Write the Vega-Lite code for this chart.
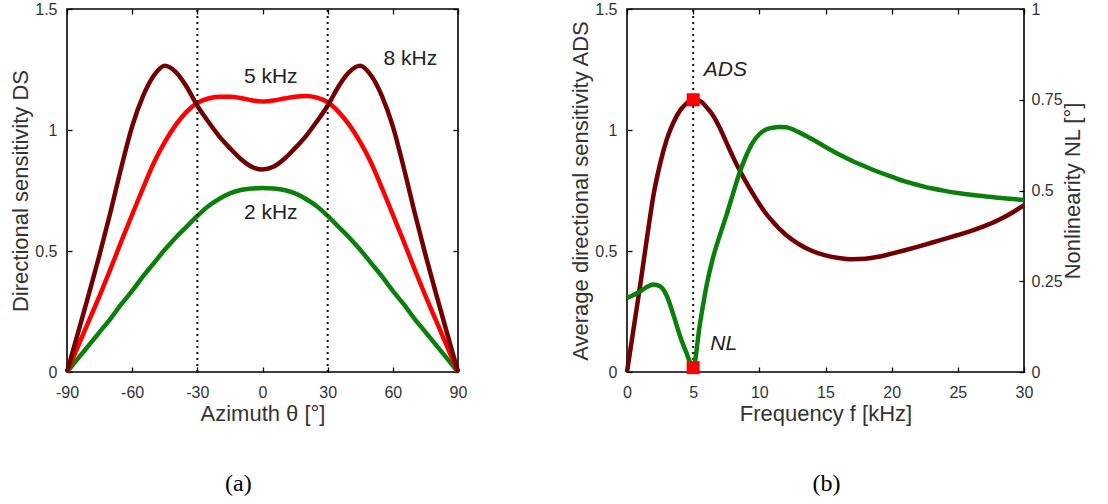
{
  "$schema": "https://vega.github.io/schema/vega-lite/v6.json",
  "background": "white",
  "padding": {"left": 8, "top": 0, "right": 5, "bottom": 5},
  "config": {
    "font": "Liberation Sans",
    "view": {"stroke": "#000", "strokeWidth": 1.6},
    "axis": {"grid": false, "domain": false, "tickColor": "#000", "tickWidth": 1.3, "tickSize": -5, "labelFont": "Liberation Sans", "labelFontSize": 16, "labelColor": "#333", "labelFlush": false, "labelOverlap": false, "labelExpr": "replace(datum.label, '−', '-')", "titleFont": "Liberation Sans", "titleFontSize": 22, "titleFontWeight": "normal", "titleColor": "#333", "labelPadding": 15, "titlePadding": 2},
    "axisX": {"labelPadding": 17, "titlePadding": 3},
    "title": {"font": "Liberation Serif", "fontSize": 24, "fontWeight": "normal", "color": "#000", "frame": "bounds"}
  },
  "datasets": {
    "ds": [
      {"theta": -90, "DS": 0, "freq": "2 kHz"}, {"theta": -85, "DS": 0.055, "freq": "2 kHz"}, {"theta": -80, "DS": 0.11, "freq": "2 kHz"}, {"theta": -75, "DS": 0.165, "freq": "2 kHz"}, {"theta": -70, "DS": 0.22, "freq": "2 kHz"}, {"theta": -65, "DS": 0.28, "freq": "2 kHz"}, {"theta": -60, "DS": 0.335, "freq": "2 kHz"}, {"theta": -55, "DS": 0.395, "freq": "2 kHz"}, {"theta": -50, "DS": 0.45, "freq": "2 kHz"}, {"theta": -45, "DS": 0.505, "freq": "2 kHz"}, {"theta": -40, "DS": 0.555, "freq": "2 kHz"}, {"theta": -35, "DS": 0.6, "freq": "2 kHz"}, {"theta": -30, "DS": 0.645, "freq": "2 kHz"}, {"theta": -25, "DS": 0.685, "freq": "2 kHz"}, {"theta": -20, "DS": 0.715, "freq": "2 kHz"}, {"theta": -15, "DS": 0.738, "freq": "2 kHz"}, {"theta": -10, "DS": 0.752, "freq": "2 kHz"}, {"theta": -5, "DS": 0.758, "freq": "2 kHz"}, {"theta": 0, "DS": 0.76, "freq": "2 kHz"}, {"theta": 5, "DS": 0.758, "freq": "2 kHz"}, {"theta": 10, "DS": 0.752, "freq": "2 kHz"}, {"theta": 15, "DS": 0.738, "freq": "2 kHz"}, {"theta": 20, "DS": 0.715, "freq": "2 kHz"}, {"theta": 25, "DS": 0.685, "freq": "2 kHz"}, {"theta": 30, "DS": 0.645, "freq": "2 kHz"}, {"theta": 35, "DS": 0.6, "freq": "2 kHz"}, {"theta": 40, "DS": 0.555, "freq": "2 kHz"}, {"theta": 45, "DS": 0.505, "freq": "2 kHz"}, {"theta": 50, "DS": 0.45, "freq": "2 kHz"}, {"theta": 55, "DS": 0.395, "freq": "2 kHz"}, {"theta": 60, "DS": 0.335, "freq": "2 kHz"}, {"theta": 65, "DS": 0.28, "freq": "2 kHz"}, {"theta": 70, "DS": 0.22, "freq": "2 kHz"}, {"theta": 75, "DS": 0.165, "freq": "2 kHz"}, {"theta": 80, "DS": 0.11, "freq": "2 kHz"}, {"theta": 85, "DS": 0.055, "freq": "2 kHz"}, {"theta": 90, "DS": 0, "freq": "2 kHz"},
      {"theta": -90, "DS": 0, "freq": "5 kHz"}, {"theta": -85, "DS": 0.105, "freq": "5 kHz"}, {"theta": -80, "DS": 0.21, "freq": "5 kHz"}, {"theta": -75, "DS": 0.315, "freq": "5 kHz"}, {"theta": -70, "DS": 0.425, "freq": "5 kHz"}, {"theta": -65, "DS": 0.54, "freq": "5 kHz"}, {"theta": -60, "DS": 0.65, "freq": "5 kHz"}, {"theta": -55, "DS": 0.76, "freq": "5 kHz"}, {"theta": -50, "DS": 0.865, "freq": "5 kHz"}, {"theta": -45, "DS": 0.95, "freq": "5 kHz"}, {"theta": -40, "DS": 1.02, "freq": "5 kHz"}, {"theta": -35, "DS": 1.075, "freq": "5 kHz"}, {"theta": -30, "DS": 1.112, "freq": "5 kHz"}, {"theta": -25, "DS": 1.13, "freq": "5 kHz"}, {"theta": -20, "DS": 1.137, "freq": "5 kHz"}, {"theta": -15, "DS": 1.137, "freq": "5 kHz"}, {"theta": -10, "DS": 1.132, "freq": "5 kHz"}, {"theta": -5, "DS": 1.123, "freq": "5 kHz"}, {"theta": 0, "DS": 1.118, "freq": "5 kHz"}, {"theta": 5, "DS": 1.122, "freq": "5 kHz"}, {"theta": 10, "DS": 1.13, "freq": "5 kHz"}, {"theta": 15, "DS": 1.137, "freq": "5 kHz"}, {"theta": 20, "DS": 1.14, "freq": "5 kHz"}, {"theta": 25, "DS": 1.134, "freq": "5 kHz"}, {"theta": 30, "DS": 1.115, "freq": "5 kHz"}, {"theta": 35, "DS": 1.075, "freq": "5 kHz"}, {"theta": 40, "DS": 1.02, "freq": "5 kHz"}, {"theta": 45, "DS": 0.95, "freq": "5 kHz"}, {"theta": 50, "DS": 0.865, "freq": "5 kHz"}, {"theta": 55, "DS": 0.76, "freq": "5 kHz"}, {"theta": 60, "DS": 0.65, "freq": "5 kHz"}, {"theta": 65, "DS": 0.54, "freq": "5 kHz"}, {"theta": 70, "DS": 0.425, "freq": "5 kHz"}, {"theta": 75, "DS": 0.315, "freq": "5 kHz"}, {"theta": 80, "DS": 0.21, "freq": "5 kHz"}, {"theta": 85, "DS": 0.105, "freq": "5 kHz"}, {"theta": 90, "DS": 0, "freq": "5 kHz"},
      {"theta": -90, "DS": 0, "freq": "8 kHz"}, {"theta": -85, "DS": 0.16, "freq": "8 kHz"}, {"theta": -80, "DS": 0.32, "freq": "8 kHz"}, {"theta": -75, "DS": 0.485, "freq": "8 kHz"}, {"theta": -70, "DS": 0.66, "freq": "8 kHz"}, {"theta": -65, "DS": 0.845, "freq": "8 kHz"}, {"theta": -60, "DS": 1.015, "freq": "8 kHz"}, {"theta": -55, "DS": 1.14, "freq": "8 kHz"}, {"theta": -50, "DS": 1.225, "freq": "8 kHz"}, {"theta": -45, "DS": 1.265, "freq": "8 kHz"}, {"theta": -40, "DS": 1.24, "freq": "8 kHz"}, {"theta": -35, "DS": 1.18, "freq": "8 kHz"}, {"theta": -30, "DS": 1.1, "freq": "8 kHz"}, {"theta": -25, "DS": 1.035, "freq": "8 kHz"}, {"theta": -20, "DS": 0.975, "freq": "8 kHz"}, {"theta": -15, "DS": 0.925, "freq": "8 kHz"}, {"theta": -10, "DS": 0.88, "freq": "8 kHz"}, {"theta": -5, "DS": 0.848, "freq": "8 kHz"}, {"theta": 0, "DS": 0.837, "freq": "8 kHz"}, {"theta": 5, "DS": 0.848, "freq": "8 kHz"}, {"theta": 10, "DS": 0.88, "freq": "8 kHz"}, {"theta": 15, "DS": 0.925, "freq": "8 kHz"}, {"theta": 20, "DS": 0.975, "freq": "8 kHz"}, {"theta": 25, "DS": 1.035, "freq": "8 kHz"}, {"theta": 30, "DS": 1.1, "freq": "8 kHz"}, {"theta": 35, "DS": 1.18, "freq": "8 kHz"}, {"theta": 40, "DS": 1.24, "freq": "8 kHz"}, {"theta": 45, "DS": 1.265, "freq": "8 kHz"}, {"theta": 50, "DS": 1.225, "freq": "8 kHz"}, {"theta": 55, "DS": 1.14, "freq": "8 kHz"}, {"theta": 60, "DS": 1.015, "freq": "8 kHz"}, {"theta": 65, "DS": 0.845, "freq": "8 kHz"}, {"theta": 70, "DS": 0.66, "freq": "8 kHz"}, {"theta": 75, "DS": 0.485, "freq": "8 kHz"}, {"theta": 80, "DS": 0.32, "freq": "8 kHz"}, {"theta": 85, "DS": 0.16, "freq": "8 kHz"}, {"theta": 90, "DS": 0, "freq": "8 kHz"}
    ],
    "ads": [
      {"f": 0, "ADS": 0}, {"f": 0.5, "ADS": 0.18}, {"f": 1, "ADS": 0.36}, {"f": 1.5, "ADS": 0.55}, {"f": 2, "ADS": 0.73}, {"f": 2.5, "ADS": 0.86}, {"f": 3, "ADS": 0.96}, {"f": 3.5, "ADS": 1.03}, {"f": 4, "ADS": 1.08}, {"f": 4.5, "ADS": 1.11}, {"f": 5, "ADS": 1.125}, {"f": 5.5, "ADS": 1.12}, {"f": 6, "ADS": 1.095}, {"f": 6.5, "ADS": 1.06}, {"f": 7, "ADS": 1.01}, {"f": 7.5, "ADS": 0.95}, {"f": 8, "ADS": 0.89}, {"f": 8.5, "ADS": 0.835}, {"f": 9, "ADS": 0.785}, {"f": 9.5, "ADS": 0.738}, {"f": 10, "ADS": 0.694}, {"f": 10.5, "ADS": 0.655}, {"f": 11, "ADS": 0.622}, {"f": 12, "ADS": 0.567}, {"f": 13, "ADS": 0.528}, {"f": 14, "ADS": 0.5}, {"f": 15, "ADS": 0.482}, {"f": 16, "ADS": 0.471}, {"f": 17, "ADS": 0.466}, {"f": 18, "ADS": 0.468}, {"f": 19, "ADS": 0.476}, {"f": 20, "ADS": 0.489}, {"f": 21, "ADS": 0.503}, {"f": 22, "ADS": 0.518}, {"f": 23, "ADS": 0.534}, {"f": 24, "ADS": 0.55}, {"f": 25, "ADS": 0.566}, {"f": 26, "ADS": 0.583}, {"f": 27, "ADS": 0.603}, {"f": 28, "ADS": 0.626}, {"f": 29, "ADS": 0.655}, {"f": 30, "ADS": 0.69}
    ],
    "nl": [
      {"f": 0, "NL": 0.204}, {"f": 0.5, "NL": 0.212}, {"f": 1, "NL": 0.222}, {"f": 1.5, "NL": 0.234}, {"f": 2, "NL": 0.241}, {"f": 2.5, "NL": 0.236}, {"f": 3, "NL": 0.21}, {"f": 3.5, "NL": 0.158}, {"f": 4, "NL": 0.1}, {"f": 4.5, "NL": 0.052}, {"f": 5, "NL": 0.012}, {"f": 5.5, "NL": 0.13}, {"f": 6, "NL": 0.236}, {"f": 6.5, "NL": 0.315}, {"f": 7, "NL": 0.375}, {"f": 7.5, "NL": 0.43}, {"f": 8, "NL": 0.49}, {"f": 8.5, "NL": 0.548}, {"f": 9, "NL": 0.595}, {"f": 9.5, "NL": 0.632}, {"f": 10, "NL": 0.655}, {"f": 10.5, "NL": 0.668}, {"f": 11, "NL": 0.673}, {"f": 11.5, "NL": 0.675}, {"f": 12, "NL": 0.674}, {"f": 13, "NL": 0.66}, {"f": 14, "NL": 0.641}, {"f": 15, "NL": 0.62}, {"f": 16, "NL": 0.6}, {"f": 17, "NL": 0.582}, {"f": 18, "NL": 0.566}, {"f": 19, "NL": 0.551}, {"f": 20, "NL": 0.538}, {"f": 21, "NL": 0.525}, {"f": 22, "NL": 0.515}, {"f": 23, "NL": 0.506}, {"f": 24, "NL": 0.499}, {"f": 25, "NL": 0.493}, {"f": 26, "NL": 0.488}, {"f": 27, "NL": 0.484}, {"f": 28, "NL": 0.48}, {"f": 29, "NL": 0.477}, {"f": 30, "NL": 0.474}
    ]
  },
  "spacing": 100,
  "hconcat": [
    {
      "width": 391,
      "height": 363,
      "title": {"text": "(a)", "orient": "bottom", "offset": 48},
      "layer": [
        {
          "layer": [
            {
              "data": {"name": "ds"},
              "mark": {"type": "line", "strokeWidth": 4.5, "interpolate": "monotone"},
              "encoding": {
                "x": {"field": "theta", "type": "quantitative", "scale": {"domain": [-90, 90], "nice": false}, "axis": {"values": [-90, -60, -30, 0, 30, 60, 90], "title": "Azimuth θ  [°]"}},
                "y": {"field": "DS", "type": "quantitative", "scale": {"domain": [0, 1.5], "nice": false}, "axis": {"values": [0, 0.5, 1, 1.5], "format": ".3~g", "title": "Directional sensitivity DS"}},
                "color": {"field": "freq", "type": "nominal", "scale": {"domain": ["2 kHz", "5 kHz", "8 kHz"], "range": ["#0a800a", "#ff0000", "#730000"]}, "legend": null}
              }
            },
            {
              "data": {"values": [{"theta": 3.8, "DS": 1.219, "label": "5 kHz"}, {"theta": 68.1, "DS": 1.292, "label": "8 kHz"}, {"theta": 3.8, "DS": 0.656, "label": "2 kHz"}]},
              "mark": {"type": "text", "fontSize": 21, "color": "#222", "align": "center", "baseline": "middle"},
              "encoding": {
                "x": {"field": "theta", "type": "quantitative"},
                "y": {"field": "DS", "type": "quantitative"},
                "text": {"field": "label"}
              }
            }
          ]
        },
        {
          "data": {"values": [{"theta": -30}, {"theta": 30}]},
          "mark": {"type": "rule", "strokeDash": [2, 4], "strokeWidth": 2, "color": "#111"},
          "encoding": {
            "x": {"field": "theta", "type": "quantitative", "axis": {"orient": "top", "labels": false, "title": null, "values": [-90, -60, -30, 0, 30, 60, 90]}},
            "y": {"datum": 0, "type": "quantitative", "axis": {"orient": "right", "labels": false, "title": null, "values": [0, 0.5, 1, 1.5]}},
            "y2": {"datum": 1.5}
          }
        }
      ],
      "resolve": {"axis": {"x": "independent", "y": "independent"}}
    },
    {
      "width": 397,
      "height": 363,
      "title": {"text": "(b)", "orient": "bottom", "offset": 48},
      "layer": [
        {
          "layer": [
            {
              "data": {"name": "ads"},
              "mark": {"type": "line", "strokeWidth": 4.5, "interpolate": "monotone", "color": "#730000"},
              "encoding": {
                "x": {"field": "f", "type": "quantitative", "scale": {"domain": [0, 30], "nice": false}, "axis": {"values": [0, 5, 10, 15, 20, 25, 30], "title": "Frequency f [kHz]"}},
                "y": {"field": "ADS", "type": "quantitative", "scale": {"domain": [0, 1.5], "nice": false}, "axis": {"values": [0, 0.5, 1, 1.5], "format": ".3~g", "title": "Average directional sensitivity ADS"}}
              }
            },
            {
              "data": {"values": [{"f": 5}]},
              "mark": {"type": "rule", "strokeDash": [2, 4], "strokeWidth": 2, "color": "#111"},
              "encoding": {
                "x": {"field": "f", "type": "quantitative"},
                "y": {"datum": 0, "type": "quantitative"},
                "y2": {"datum": 1.5}
              }
            },
            {
              "data": {"values": [{"f": 5, "ADS": 1.125}]},
              "mark": {"type": "point", "shape": "square", "filled": true, "size": 170, "color": "#ff0000", "opacity": 1},
              "encoding": {
                "x": {"field": "f", "type": "quantitative"},
                "y": {"field": "ADS", "type": "quantitative"}
              }
            },
            {
              "data": {"values": [{"f": 5.8, "ADS": 1.246, "label": "ADS"}, {"f": 6.3, "ADS": 0.116, "label": "NL"}]},
              "mark": {"type": "text", "fontSize": 21, "fontStyle": "italic", "color": "#222", "align": "left", "baseline": "middle"},
              "encoding": {
                "x": {"field": "f", "type": "quantitative"},
                "y": {"field": "ADS", "type": "quantitative"},
                "text": {"field": "label"}
              }
            }
          ]
        },
        {
          "layer": [
            {
              "data": {"name": "nl"},
              "mark": {"type": "line", "strokeWidth": 4.5, "interpolate": "monotone", "color": "#0a800a"},
              "encoding": {
                "x": {"field": "f", "type": "quantitative", "axis": {"orient": "top", "labels": false, "title": null, "values": [0, 5, 10, 15, 20, 25, 30]}},
                "y": {"field": "NL", "type": "quantitative", "scale": {"domain": [0, 1], "nice": false}, "axis": {"orient": "right", "values": [0, 0.25, 0.5, 0.75, 1], "format": ".3~g", "labelPadding": 12, "title": "Nonlinearity NL [°]", "titleAngle": 270, "titleBaseline": "top", "titlePadding": 0}}
              }
            },
            {
              "data": {"values": [{"f": 5, "NL": 0.012}]},
              "mark": {"type": "point", "shape": "square", "filled": true, "size": 170, "color": "#ff0000", "opacity": 1},
              "encoding": {
                "x": {"field": "f", "type": "quantitative"},
                "y": {"field": "NL", "type": "quantitative"}
              }
            }
          ]
        }
      ],
      "resolve": {"scale": {"y": "independent"}, "axis": {"x": "independent"}}
    }
  ]
}
